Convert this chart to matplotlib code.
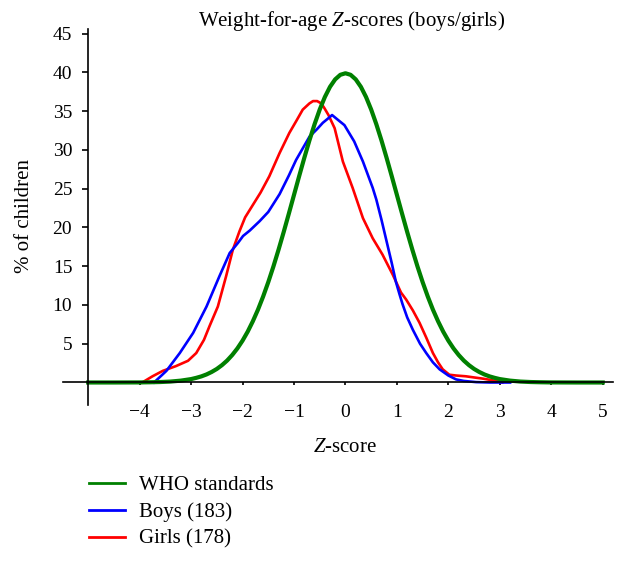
import matplotlib
matplotlib.use("Agg")
from matplotlib import pyplot as plt
from matplotlib.lines import Line2D

plt.rcParams['font.family'] = ['Liberation Serif', 'DejaVu Serif']
plt.rcParams['mathtext.fontset'] = 'custom'
plt.rcParams['mathtext.rm'] = 'Liberation Serif'
plt.rcParams['mathtext.it'] = 'Liberation Serif:italic'

# WHO standard curve (% of children per z-score)
who_z = [-5.0, -4.5, -4.0, -3.8, -3.6, -3.4, -3.2, -3.0, -2.9, -2.8, -2.7, -2.6,
         -2.5, -2.4, -2.3, -2.2, -2.1, -2.0, -1.9, -1.8, -1.7, -1.6, -1.5, -1.4,
         -1.3, -1.2, -1.1, -1.0, -0.9, -0.8, -0.7, -0.6, -0.5, -0.4, -0.3, -0.2,
         -0.1, 0.0, 0.1, 0.2, 0.3, 0.4, 0.5, 0.6, 0.7, 0.8, 0.9, 1.0, 1.1, 1.2,
         1.3, 1.4, 1.5, 1.6, 1.7, 1.8, 1.9, 2.0, 2.1, 2.2, 2.3, 2.4, 2.5, 2.6,
         2.7, 2.8, 2.9, 3.0, 3.2, 3.4, 3.6, 3.8, 4.0, 4.5, 5.0]
who_v = [0.0, 0.0, 0.01, 0.03, 0.06, 0.12, 0.24, 0.44, 0.6, 0.79, 1.04, 1.36,
         1.75, 2.24, 2.83, 3.55, 4.4, 5.4, 6.56, 7.9, 9.4, 11.09, 12.95, 14.97,
         17.14, 19.42, 21.79, 24.2, 26.61, 28.97, 31.23, 33.32, 35.21, 36.83, 38.14, 39.1,
         39.69, 39.89, 39.69, 39.1, 38.14, 36.83, 35.21, 33.32, 31.23, 28.97, 26.61, 24.2, 21.79, 19.42,
         17.14, 14.97, 12.95, 11.09, 9.4, 7.9, 6.56, 5.4, 4.4, 3.55, 2.83, 2.24, 1.75, 1.36,
         1.04, 0.79, 0.6, 0.44, 0.24, 0.12, 0.06, 0.03, 0.01, 0.0, 0.0]

# Boys (183)
boys_z = [-3.72, -3.48, -3.22, -2.96, -2.70, -2.45, -2.25, -2.09, -1.99, -1.86,
          -1.67, -1.50, -1.28, -1.10, -0.96, -0.83, -0.70, -0.55, -0.44, -0.33,
          -0.26, -0.15, -0.02, 0.17, 0.34, 0.53, 0.60, 0.70, 0.80, 0.90,
          0.98, 1.05, 1.11, 1.20, 1.31, 1.45, 1.57, 1.70, 1.83, 2.00, 2.15, 2.30,
          2.54, 2.80, 3.20]
boys_v = [0.0, 1.5, 3.8, 6.4, 9.8, 13.7, 16.7, 18.0, 18.9, 19.6,
          20.8, 22.0, 24.3, 26.7, 28.7, 30.2, 31.7, 32.7, 33.5, 34.1,
          34.5, 33.9, 33.2, 31.1, 28.5, 25.1, 23.6, 21.0, 18.2, 15.4,
          13.0, 11.4, 10.1, 8.4, 6.8, 5.0, 3.8, 2.6, 1.7, 0.9, 0.4, 0.2,
          0.05, 0.0, 0.0]

# Girls (178)
girls_z = [-3.95, -3.75, -3.55, -3.30, -3.06, -2.90, -2.75, -2.64, -2.48, -2.32,
           -2.19, -2.06, -1.95, -1.80, -1.65, -1.48, -1.28, -1.09, -0.95, -0.83,
           -0.70, -0.63, -0.55, -0.47, -0.41, -0.33, -0.21, -0.05, 0.14, 0.34,
           0.53, 0.72, 0.92, 1.08, 1.18, 1.31, 1.44, 1.57, 1.70, 1.80,
           1.89, 2.02, 2.15, 2.34, 2.50, 2.67, 2.80, 2.93, 3.05]
girls_v = [0.0, 0.8, 1.5, 2.1, 2.8, 3.8, 5.5, 7.3, 9.8, 13.7,
           17.1, 19.5, 21.3, 22.9, 24.5, 26.6, 29.6, 32.2, 33.8, 35.2,
           36.0, 36.3, 36.3, 36.0, 35.4, 34.5, 32.8, 28.5, 25.1, 21.2,
           18.6, 16.5, 13.9, 11.6, 10.7, 9.3, 7.7, 5.8, 3.8, 2.6,
           1.7, 1.0, 0.9, 0.8, 0.65, 0.5, 0.35, 0.2, 0.0]

x_ticks = [-4, -3, -2, -1, 0, 1, 2, 3, 4, 5]
x_tick_labels = ["\u22124", "\u22123", "\u22122", "\u22121", "0", "1", "2", "3", "4", "5"]
y_ticks = [5, 10, 15, 20, 25, 30, 35, 40, 45]

RED = (1, 0, 0, 1)
BLUE = (0, 0, 1, 1)
GREEN = (0, 0.5, 0, 1)

fig = plt.figure(figsize=(6.28, 5.62), dpi=100)
ax = fig.add_axes([0.1003, 0.2794, 0.8758, 0.669])

ax.plot(girls_z, girls_v, color=RED, linewidth=1.9, solid_joinstyle='round')
ax.plot(boys_z, boys_v, color=BLUE, linewidth=1.9, solid_joinstyle='round')
ax.plot(who_z, who_v, color=GREEN, linewidth=3.0, solid_joinstyle='round')

ax.set_xlim(-5.49, 5.2)
ax.set_ylim(-2.9, 45.6)

for side in ['top', 'right']:
    ax.spines[side].set_visible(False)
ax.spines['left'].set_position(('data', -5))
ax.spines['bottom'].set_position(('data', 0))
for side in ['left', 'bottom']:
    ax.spines[side].set_linewidth(1.2)

ax.set_xticks(x_ticks)
ax.set_xticklabels(x_tick_labels)
ax.set_yticks(y_ticks)
ax.tick_params(axis='x', direction='out', length=2.5, width=1.2, pad=13, labelsize=14)
ax.tick_params(axis='y', direction='out', length=4.5, width=1.2, pad=7, labelsize=14)

fig.text(0.5605, 0.9543, r"Weight-for-age $Z$-scores (boys/girls)", ha='center', va='baseline', fontsize=15)
fig.text(0.55, 0.1957, r"$Z$-score", ha='center', va='baseline', fontsize=15)
fig.text(0.0398, 0.6157, "% of children", ha='center', va='center', rotation=90, fontsize=15)

handles = [Line2D([], [], color=GREEN, linewidth=2.0),
           Line2D([], [], color=BLUE, linewidth=2.0),
           Line2D([], [], color=RED, linewidth=2.0)]
labels = ["WHO standards", "Boys (183)", "Girls (178)"]
fig.legend(handles, labels, loc='upper left', bbox_to_anchor=(0.1417, 0.154),
           frameon=False, fontsize=15, handlelength=1.73, handletextpad=0.67,
           labelspacing=0.35, borderaxespad=0, borderpad=0)

fig.savefig("out.png", dpi=100)
